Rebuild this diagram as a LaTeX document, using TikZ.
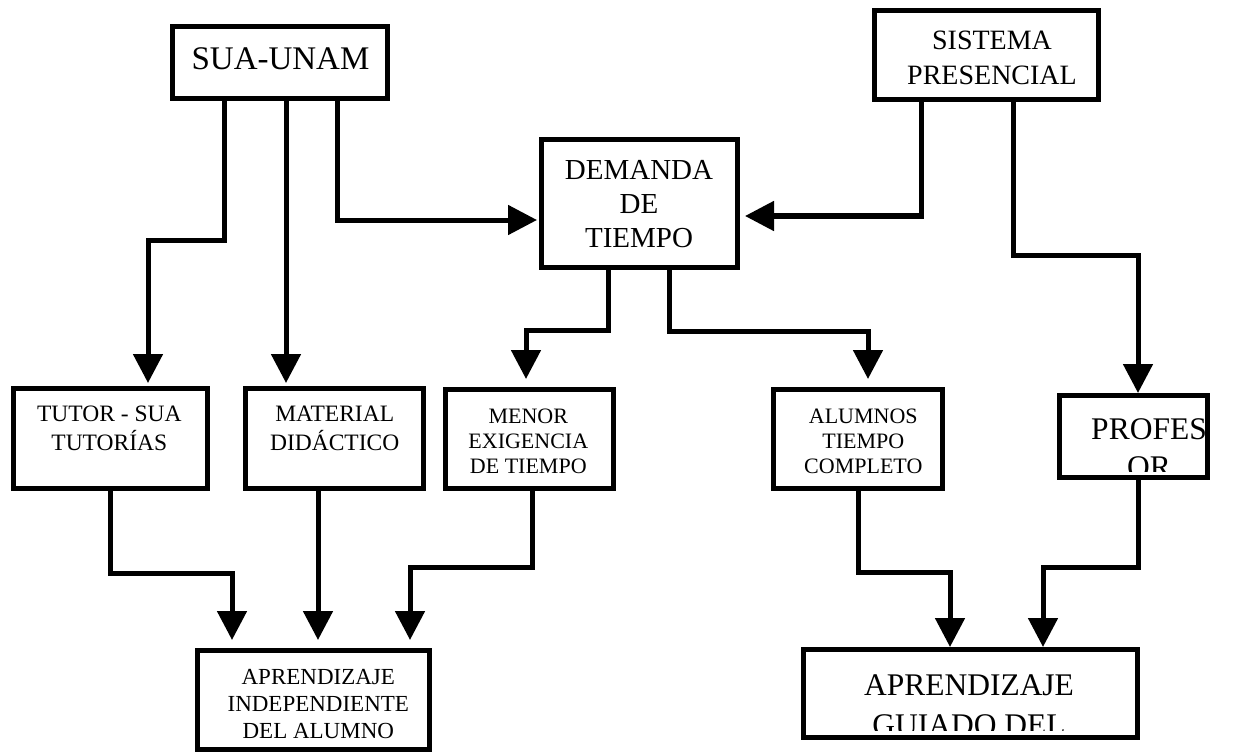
\documentclass[tikz,border=0pt]{standalone}
\usepackage{fontspec}
\setmainfont{Liberation Serif}
\usetikzlibrary{arrows.meta}
\begin{document}
\begin{tikzpicture}[x=1pt,y=-1pt,
  box/.style={draw, line width=5pt, rectangle, inner sep=0pt},
  txt/.style={inner sep=0pt, align=center},
  conn/.style={line width=5pt, -{Triangle[width=29pt,length=29pt]}}]
\fill[white] (0,0) rectangle (1247,754);
\useasboundingbox (0,0) rectangle (1247,754);

% boxes
\node[box, minimum width=215pt, minimum height=72pt]  (sua) at (280,62.5) {};
\node[box, minimum width=224pt, minimum height=89pt]  (sis) at (986.5,55) {};
\node[box, minimum width=196pt, minimum height=128pt] (dem) at (639.5,203.5) {};
\node[box, minimum width=194pt, minimum height=100pt] (tut) at (110.5,438.5) {};
\node[box, minimum width=178pt, minimum height=100pt] (mat) at (334.5,438.5) {};
\node[box, minimum width=168pt, minimum height=99pt]  (men) at (529.5,439) {};
\node[box, minimum width=169pt, minimum height=99pt]  (alu) at (858,439) {};
\node[box, minimum width=148pt, minimum height=82pt]  (pro) at (1133.5,436.5) {};
\node[box, minimum width=232pt, minimum height=99pt]  (ind) at (313.5,700) {};
\node[box, minimum width=334pt, minimum height=88pt]  (gui) at (970.5,693.5) {};

% texts
\node[txt, font=\fontsize{33}{38}\selectfont] (tsua) at (280.5,58.3) {SUA-UNAM};
\node[txt, font=\fontsize{28}{35}\selectfont] (tsis) at (992,58.3) {SISTEMA\\PRESENCIAL};
\node[txt, font=\fontsize{29}{34}\selectfont] (tdem) at (639,203.8) {DEMANDA\\DE\\TIEMPO};
\node[txt, font=\fontsize{23.5}{29}\selectfont] (ttut) at (109.3,428) {TUTOR - SUA\\TUTORÍAS};
\node[txt, font=\fontsize{23.5}{29}\selectfont] (tmat) at (334.7,428) {MATERIAL\\DIDÁCTICO};
\node[txt, font=\fontsize{22}{25}\selectfont] (tmen) at (528.3,441) {MENOR\\EXIGENCIA\\DE TIEMPO};
\node[txt, font=\fontsize{22}{25}\selectfont] (talu) at (863.3,441) {ALUMNOS\\TIEMPO\\COMPLETO};
\node[txt, font=\fontsize{23}{27}\selectfont] (tind) at (318.3,704.5) {APRENDIZAJE\\INDEPENDIENTE\\DEL ALUMNO};
\begin{scope}
  \clip (1060,396) rectangle (1207,471);
  \node[txt, anchor=north, font=\fontsize{31.5}{38}\selectfont] (tpro) at (1149,418.3) {PROFES\\OR};
\end{scope}
\begin{scope}
  \clip (804,650) rectangle (1137,730);
  \node[txt, anchor=north, font=\fontsize{31.5}{40}\selectfont] (tgui) at (969,674.5) {APRENDIZAJE\\GUIADO DEL};
\end{scope}

% connectors
\draw[conn, shorten >=3pt] ([xshift=-56pt]sua.south) -- ++(0,139) -| ([xshift=37.5pt]tut.north);
\draw[conn, shorten >=3pt] ([xshift=6pt]sua.south) -- ([xshift=-48.5pt]mat.north);
\draw[conn, shorten >=2pt] ([xshift=57pt]sua.south) |- ([yshift=-16.5pt]dem.west);
\draw[conn, shorten >=5pt] ([xshift=-65.5pt]sis.south) |- ([yshift=-12.5pt]dem.east);
\draw[conn] ([xshift=26.5pt]sis.south) -- ++(0,153) -| ([xshift=4.5pt]pro.north);
\draw[conn, shorten >=8pt] ([xshift=-31.5pt]dem.south) -- ++(0,60) -| ([xshift=-3.5pt]men.north);
\draw[conn, shorten >=8pt] ([xshift=29.5pt]dem.south) -- ++(0,61) -| ([xshift=10pt]alu.north);
\draw[conn, shorten >=8pt] ([xshift=-0.5pt]tut.south) -- ++(0,82) -| ([xshift=-81.5pt]ind.north);
\draw[conn, shorten >=8pt] ([xshift=-16.5pt]mat.south) -- ([xshift=4.5pt]ind.north);
\draw[conn, shorten >=8pt] ([xshift=2.5pt]men.south) -- ++(0,76) -| ([xshift=96.5pt]ind.north);
\draw[conn] (alu.south) -- ++(0,81) -| ([xshift=-20.5pt]gui.north);
\draw[conn] ([xshift=4.5pt]pro.south) -- ++(0,87) -| ([xshift=72.5pt]gui.north);
\end{tikzpicture}
\end{document}
